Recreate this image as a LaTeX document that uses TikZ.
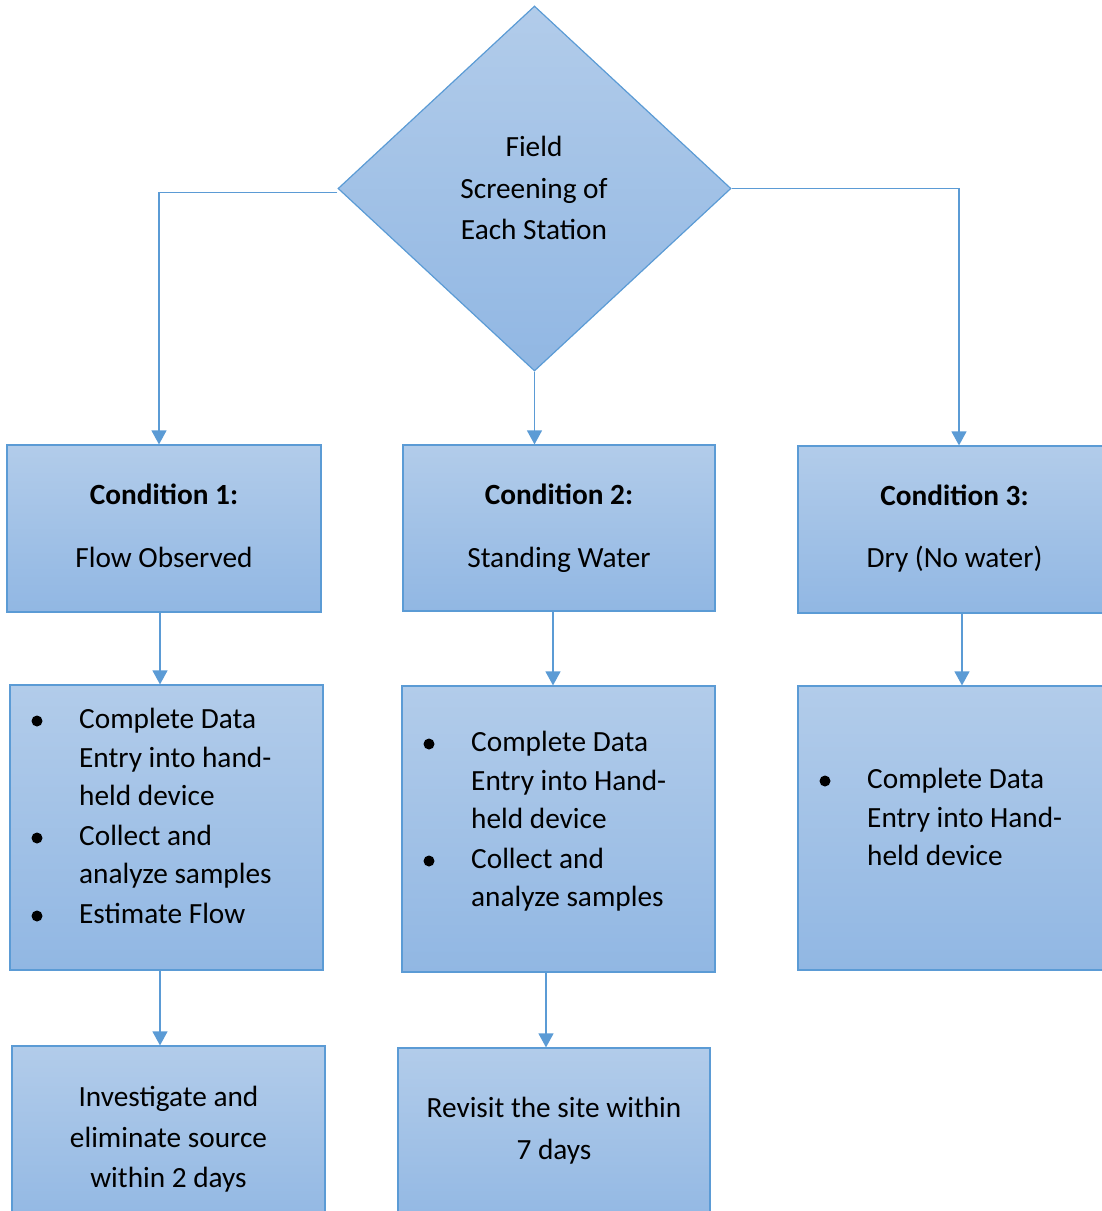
\documentclass[tikz,border=0pt]{standalone}
\usepackage{fontspec}
\setmainfont{Carlito}
\usetikzlibrary{shapes.geometric,arrows.meta}
\definecolor{edge}{RGB}{91,155,213}
\definecolor{topc}{RGB}{178,204,234}
\definecolor{botc}{RGB}{145,183,227}
\begin{document}
\begin{tikzpicture}[x=1pt,y=-1pt,
  box/.style={rectangle,draw=edge,line width=1.2pt,top color=topc,bottom color=botc,inner sep=0pt},
  conn/.style={draw=edge,line width=1.3pt,-{Triangle[width=15pt,length=14pt]}},
  txt/.style={anchor=base,inner sep=0pt,font=\fontsize{29.3}{39}\selectfont},
  ltxt/.style={txt,anchor=base west},
  btxt/.style={txt,font=\fontsize{29.3}{39}\selectfont\bfseries},
  dot/.style={circle,fill=black,minimum size=11pt,inner sep=0pt}]
\clip (0,0) rectangle (1102,1211);
% diamond
\node[diamond,draw=edge,line width=1.2pt,top color=topc,bottom color=botc,inner sep=0pt,
  minimum width=393pt,minimum height=365pt] (dia) at (534.5,188.5) {};
\node[txt] (d1) at (534,156) {Field};
\node[txt] (d2) at (534,198) {Screening of};
\node[txt] (d3) at (534,239) {Each Station};
% row 1
\node[box,minimum width=314pt,minimum height=167pt] (c1) at (164,528.5) {};
\node[box,minimum width=312pt,minimum height=166pt] (c2) at (559,528) {};
\node[box,minimum width=313pt,minimum height=167pt] (c3) at (954.5,529.5) {};
\node[btxt] (c1a) at (164,504) {Condition 1:};
\node[txt] (c1b) at (164,567) {Flow Observed};
\node[btxt] (c2a) at (559,504) {Condition 2:};
\node[txt] (c2b) at (559,567) {Standing Water};
\node[btxt] (c3a) at (954.5,505) {Condition 3:};
\node[txt] (c3b) at (954.5,567) {Dry (No water)};
% row 2
\node[box,minimum width=313pt,minimum height=285pt] (b4) at (166.5,827.5) {};
\node[box,minimum width=313pt,minimum height=286pt] (b5) at (558.5,829) {};
\node[box,minimum width=313pt,minimum height=284pt] (b6) at (954.5,828) {};
\node[dot] (p41) at (37,721) {};
\node[ltxt] (t41) at (79,728) {Complete Data};
\node[ltxt] (t42) at (79,767) {Entry into hand-};
\node[ltxt] (t43) at (79,805) {held device};
\node[dot] (p42) at (37,838) {};
\node[ltxt] (t44) at (79,845) {Collect and};
\node[ltxt] (t45) at (79,883) {analyze samples};
\node[dot] (p43) at (37,916) {};
\node[ltxt] (t46) at (79,923) {Estimate Flow};
\node[dot] (p51) at (429,744) {};
\node[ltxt] (t51) at (471,751) {Complete Data};
\node[ltxt] (t52) at (471,790) {Entry into Hand-};
\node[ltxt] (t53) at (471,828) {held device};
\node[dot] (p52) at (429,861) {};
\node[ltxt] (t54) at (471,868) {Collect and};
\node[ltxt] (t55) at (471,906) {analyze samples};
\node[dot] (p61) at (825,781) {};
\node[ltxt] (t61) at (867,788) {Complete Data};
\node[ltxt] (t62) at (867,827) {Entry into Hand-};
\node[ltxt] (t63) at (867,865) {held device};
% row 3
\node[box,minimum width=313pt,minimum height=184pt] (b7) at (168.5,1138) {};
\node[box,minimum width=312pt,minimum height=182pt] (b8) at (554,1139) {};
\node[txt] (t71) at (168.5,1106) {Investigate and};
\node[txt] (t72) at (168.5,1147) {eliminate source};
\node[txt] (t73) at (168.5,1187) {within 2 days};
\node[txt] (t81) at (554,1117) {Revisit the site within};
\node[txt] (t82) at (554,1159) {7 days};
% connectors
\draw[conn] ([yshift=-4pt]dia.west) -| ([xshift=-5pt]c1.north);
\draw[conn] (dia.east) -| ([xshift=4.5pt]c3.north);
\draw[conn] (dia.south) -- (dia.south |- c2.north);
\draw[conn] ([xshift=-4pt]c1.south) -- ([xshift=-4pt]c1.south |- b4.north);
\draw[conn] ([xshift=-6pt]c2.south) -- ([xshift=-6pt]c2.south |- b5.north);
\draw[conn] ([xshift=7.5pt]c3.south) -- ([xshift=7.5pt]c3.south |- b6.north);
\draw[conn] ([xshift=-6.5pt]b4.south) -- ([xshift=-6.5pt]b4.south |- b7.north);
\draw[conn] ([xshift=-12.5pt]b5.south) -- ([xshift=-12.5pt]b5.south |- b8.north);
\end{tikzpicture}
\end{document}
